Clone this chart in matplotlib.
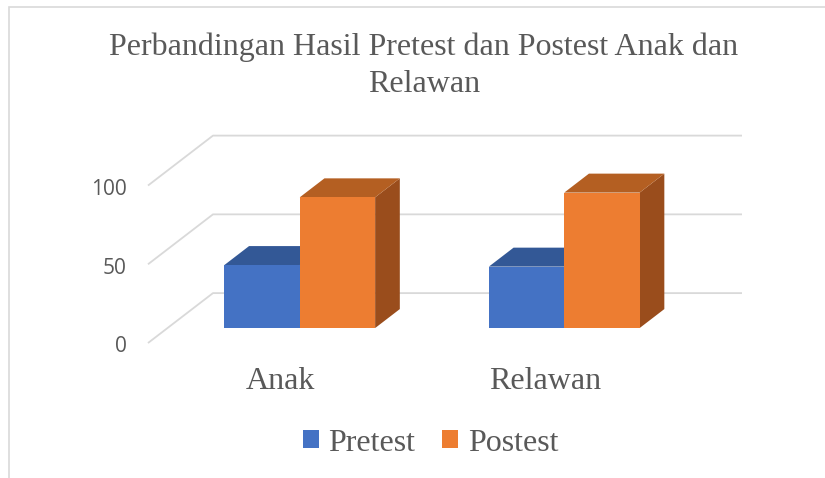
import matplotlib.pyplot as plt
from matplotlib.patches import Polygon, Patch, Rectangle

categories = ["Anak", "Relawan"]
series = ["Pretest", "Postest"]
pretest = [40, 39]
postest = [83, 86]
yticks = [0, 50, 100]
title_lines = ["Perbandingan Hasil Pretest dan Postest Anak dan", "Relawan"]

front_col = ["#4472C4", "#ED7D31"]
top_col = ["#335896", "#B45F22"]
side_col = ["#2F5088", "#9A4D1C"]
grid_col = "#D9D9D9"
text_col = "#595959"

# oblique 3d: full depth offset in data units
DX = 0.2457
DY = 31.7
d0, d1 = 0.30, 0.68   # bar front/back depth fraction
bw = 0.285            # single bar width


def proj(x, v, d):
    return (x + d * DX, v + d * DY)


fig = plt.figure(figsize=(8.25, 4.78), dpi=100)
ax = fig.add_axes([0, 0, 1, 1])
ax.set_xlim(-1.0595, 2.0595)
ax.set_ylim(-85.7, 217.8)
ax.axis("off")

# frame of the chart area
fig.patches.append(Rectangle((9 / 825, -0.1), 1.2, 1 - 7 / 478 + 0.1,
                             transform=fig.transFigure, fill=False,
                             edgecolor=grid_col, lw=1.2))

# walls gridlines
for v in yticks:
    pts = [proj(-0.5, v, 0), proj(-0.5, v, 1), proj(1.5, v, 1)]
    ax.plot([p[0] for p in pts], [p[1] for p in pts], color=grid_col, lw=1.3,
            solid_capstyle="butt", zorder=1)
    ax.text(-0.58, v - 2.5, str(v), ha="right", va="center", fontsize=15,
            family="Open Sans", color=text_col)

data = [pretest, postest]
for i in range(len(categories)):
    for s in range(2):
        v = data[s][i]
        x0 = i - bw + s * bw
        x1 = x0 + bw
        front = [proj(x0, 0, d0), proj(x1, 0, d0), proj(x1, v, d0), proj(x0, v, d0)]
        top = [proj(x0, v, d0), proj(x1, v, d0), proj(x1, v, d1), proj(x0, v, d1)]
        side = [proj(x1, 0, d0), proj(x1, 0, d1), proj(x1, v, d1), proj(x1, v, d0)]
        for poly, c in [(side, side_col[s]), (top, top_col[s]), (front, front_col[s])]:
            ax.add_patch(Polygon(poly, closed=True, facecolor=c, edgecolor="none", zorder=2))
    ax.text(i, -29.2, categories[i], ha="center", va="baseline", fontsize=23,
            family="Liberation Serif", color=text_col)

fig.text(0.5136, 1 - 55 / 478, title_lines[0], ha="center", va="baseline",
         fontsize=23, family="Liberation Serif", color=text_col)
fig.text(0.5136, 1 - 92 / 478, title_lines[1], ha="center", va="baseline",
         fontsize=23, family="Liberation Serif", color=text_col)

handles = [Patch(facecolor=front_col[k], label=series[k]) for k in range(2)]
leg = fig.legend(handles=handles, loc="center", bbox_to_anchor=(0.522, 0.073), ncol=2,
                 frameon=False, handlelength=0.5, handleheight=0.5,
                 handletextpad=0.3, columnspacing=0.85,
                 prop={"family": "Liberation Serif", "size": 23})
for t in leg.get_texts():
    t.set_color(text_col)

fig.savefig("out.png", dpi=100)
